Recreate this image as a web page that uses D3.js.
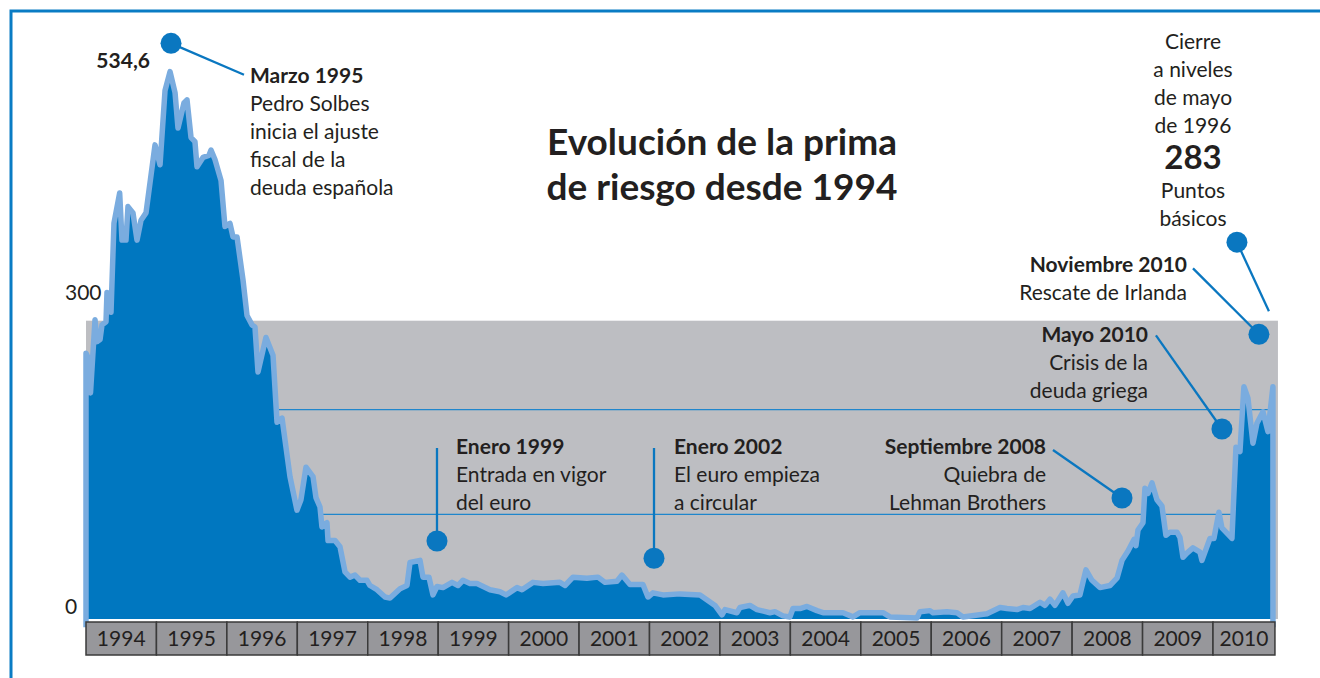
<!DOCTYPE html>
<html><head><meta charset="utf-8">
<script src="https://cdn.jsdelivr.net/npm/d3@7"></script>
<style>
html,body{margin:0;padding:0;background:#fff;}
svg{display:block;}
text{font-family:Lato,"Noto Sans",sans-serif;fill:#231f20;}
</style>
</head><body>
<svg id="chart" width="1320" height="678"></svg>
<script>
// ---- data (decimal year, spread in basis points) ----
const dates = [1994.000,1994.028,1994.064,1994.128,1994.156,1994.199,1994.227,1994.284,1994.298,1994.355,
1994.397,1994.478,1994.511,1994.568,1994.596,1994.667,1994.724,1994.781,1994.852,1994.909,
1994.980,1995.051,1995.122,1995.193,1995.264,1995.306,1995.391,1995.434,1995.491,1995.547,
1995.576,1995.661,1995.746,1995.775,1995.831,1995.917,1995.973,1996.044,1996.087,1996.144,
1996.229,1996.286,1996.357,1996.399,1996.442,1996.555,1996.655,1996.712,1996.783,1996.896,
1996.995,1997.052,1997.123,1997.223,1997.265,1997.322,1997.350,1997.421,1997.436,1997.535,
1997.606,1997.677,1997.748,1997.819,1997.890,1997.989,1998.032,1998.131,1998.245,1998.316,
1998.458,1998.557,1998.600,1998.742,1998.784,1998.869,1998.926,1998.983,1999.068,1999.196,
1999.281,1999.352,1999.451,1999.551,1999.735,1999.877,1999.963,2000.119,2000.190,2000.346,
2000.488,2000.729,2000.800,2000.914,2001.112,2001.269,2001.368,2001.538,2001.609,2001.723,
2001.907,2001.978,2002.049,2002.191,2002.433,2002.717,2002.930,2003.029,2003.072,2003.242,
2003.284,2003.426,2003.526,2003.710,2003.781,2003.895,2003.994,2004.037,2004.136,2004.236,
2004.378,2004.463,2004.747,2004.889,2004.988,2005.315,2005.414,2005.797,2005.840,2005.982,
2006.024,2006.223,2006.365,2006.450,2006.791,2006.976,2007.075,2007.217,2007.302,2007.402,
2007.544,2007.615,2007.686,2007.756,2007.870,2007.941,2008.012,2008.111,2008.196,2008.282,
2008.395,2008.537,2008.637,2008.708,2008.793,2008.878,2008.906,2008.935,2009.006,2009.034,
2009.077,2009.134,2009.204,2009.275,2009.332,2009.389,2009.488,2009.531,2009.574,2009.630,
2009.715,2009.815,2009.843,2009.957,2010.013,2010.084,2010.127,2010.269,2010.326,2010.383,
2010.439,2010.496,2010.567,2010.624,2010.709,2010.780,2010.851];
const spread = [254,250,216,286,265,267,281,284,312,293,
378,407,362,362,394,388,362,381,388,417,
453,434,505,523,503,469,493,496,460,456,
432,441,443,448,439,419,375,378,365,365,
324,290,281,279,236,269,252,188,192,136,
104,114,145,136,116,107,88,92,75,75,
69,45,40,42,37,37,32,28,21,20,
29,32,54,56,40,40,23,31,30,35,
32,37,34,34,28,26,23,30,28,35,
34,35,32,40,39,40,35,36,42,33,
33,21,25,23,24,23,13,4,9,6,
11,13,9,6,7,3,2,10,10,12,
8,6,6,2,6,6,2,1,7,8,
6,7,6,2,5,11,10,9,11,10,
16,13,19,13,25,15,22,23,47,37,
30,32,39,56,65,76,70,85,92,125,
120,130,114,108,80,83,83,78,59,63,
68,64,56,77,77,102,87,77,164,160,
222,211,168,187,198,179,222];
const yearLabels = [1994,1995,1996,1997,1998,1999,2000,2001,2002,2003,2004,2005,2006,2007,2008,2009,2010];
const yTickValues = [0, 300];
const gridValues = [100, 200];
const bandLevel = 285;
const peakLabel = "534,6";
const titleLines = ["Evolución de la prima", "de riesgo desde 1994"];

// annotations: dot and leader end in data space (year, points)
const annotations = [
  {dot:[1995.207,550], end:[1996.243,520], tx:250, ty:83, anchor:"start",
   lines:[["Marzo 1995",true],["Pedro Solbes",false],["inicia el ajuste",false],["fiscal de la",false],["deuda española",false]]},
  {dot:[1998.983,74.5], end:[1998.983,163.4], tx:456, ty:454, anchor:"start",
   lines:[["Enero 1999",true],["Entrada en vigor",false],["del euro",false]]},
  {dot:[2002.064,58], end:[2002.064,163.4], tx:674, ty:454, anchor:"start",
   lines:[["Enero 2002",true],["El euro empieza",false],["a circular",false]]},
  {dot:[2008.708,115.6], end:[2007.728,161.5], tx:1046, ty:454, anchor:"end",
   lines:[["Septiembre 2008",true],["Quiebra de",false],["Lehman Brothers",false]]},
  {dot:[2010.127,181.5], end:[2009.190,271], tx:1148, ty:342, anchor:"end",
   lines:[["Mayo 2010",true],["Crisis de la",false],["deuda griega",false]]},
  {dot:[2010.652,272], end:[2009.716,335], tx:1187, ty:272, anchor:"end",
   lines:[["Noviembre 2010",true],["Rescate de Irlanda",false]]},
  {dot:[2010.340,360], end:[2010.794,294], tx:null}
];
const closeLines = [["Cierre",false,49],["a niveles",false,77],["de mayo",false,105],["de 1996",false,133],["283",true,169],["Puntos",false,198],["básicos",false,226]];

// ---- colours ----
const C = {frame:"#0a7cc4", area:"#0077c0", line:"#7aacdf", band:"#bdbec2", grid:"#1f86cc",
           box:"#97979b", boxStroke:"#3a3a3a", dot:"#0a77c0", text:"#231f20"};

const data = dates.map((d,i)=>({t:d, v:spread[i]}));
const svg = d3.select("#chart");
const x = d3.scaleLinear().domain([1994, 2010]).range([86, 1213]);
const y = d3.scaleLinear().domain([0, 300]).range([619, 305]);
const tEnd = dates[dates.length-1];

// frame
svg.append("path").attr("d","M11,678V11H1320").attr("fill","none").attr("stroke",C.frame).attr("stroke-width",3);

// grey band
svg.append("rect").attr("x",x(1994)).attr("y",y(bandLevel))
  .attr("width",x(tEnd)+5-x(1994)).attr("height",y(0)-y(bandLevel)).attr("fill",C.band);

// grid lines
svg.selectAll(".grid").data(gridValues).enter().append("line")
  .attr("x1",x(1994)).attr("x2",x(tEnd)).attr("y1",d=>y(d)).attr("y2",d=>y(d))
  .attr("stroke",C.grid).attr("stroke-width",1.3);

// area
const area = d3.area().x(d=>x(d.t)).y0(y(0)).y1(d=>y(d.v));
svg.append("path").datum(data).attr("d",area).attr("fill",C.area);

// outline
const outline = [{t:dates[0],v:-8}, ...data, {t:tEnd,v:-8}];
const line = d3.line().x(d=>x(d.t)).y(d=>y(d.v));
svg.append("path").datum(outline).attr("d",line).attr("fill","none")
  .attr("stroke",C.line).attr("stroke-width",5.5).attr("stroke-linejoin","round");

// year boxes
const boxTop = 622, boxH = 33;
const g = svg.append("g");
yearLabels.forEach(yr=>{
  const x0 = x(yr), x1 = Math.min(x(yr+1), x(tEnd)+2);
  g.append("rect").attr("x",x0).attr("y",boxTop).attr("width",x1-x0).attr("height",boxH)
    .attr("fill",C.box).attr("stroke",C.boxStroke).attr("stroke-width",1.5);
  g.append("text").attr("x",(x0+x1)/2).attr("y",646).attr("text-anchor","middle")
    .attr("font-size",21).text(yr);
});

// y labels
svg.selectAll(".ylab").data(yTickValues).enter().append("text")
  .attr("x",65).attr("y",d=>y(d)-5).attr("font-size",21).text(d=>d);

// title
titleLines.forEach((t,i)=>{
  svg.append("text").attr("x",722).attr("y",155+i*45).attr("text-anchor","middle")
    .attr("font-size",37).attr("font-weight","bold").text(t);
});

// peak label
svg.append("text").attr("x",150).attr("y",68).attr("text-anchor","end")
  .attr("font-size",21).attr("font-weight","bold").text(peakLabel);

// annotations
annotations.forEach(a=>{
  svg.append("line").attr("x1",x(a.dot[0])).attr("y1",y(a.dot[1]))
    .attr("x2",x(a.end[0])).attr("y2",y(a.end[1]))
    .attr("stroke",C.dot).attr("stroke-width",2.3);
  svg.append("circle").attr("cx",x(a.dot[0])).attr("cy",y(a.dot[1])).attr("r",10.5).attr("fill",C.dot);
  if(a.tx!==null){
    a.lines.forEach((l,i)=>{
      svg.append("text").attr("x",a.tx).attr("y",a.ty+i*28).attr("text-anchor",a.anchor)
        .attr("font-size",21).attr("font-weight",l[1]?"bold":"normal").text(l[0]);
    });
  }
});
closeLines.forEach(l=>{
  svg.append("text").attr("x",1193).attr("y",l[2]).attr("text-anchor","middle")
    .attr("font-size",l[1]?33:21).attr("font-weight",l[1]?"bold":"normal").text(l[0]);
});
</script>
</body></html>
